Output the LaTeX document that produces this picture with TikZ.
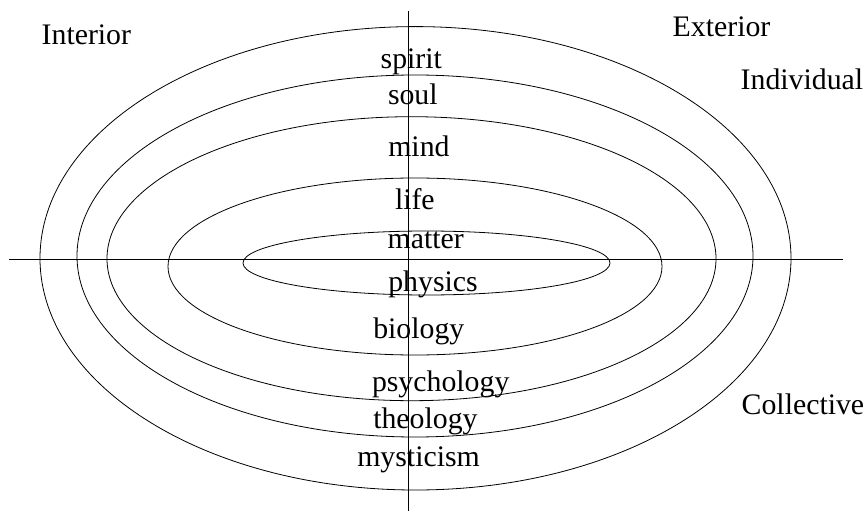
\documentclass[tikz,border=0pt]{standalone}
\usepackage{fontspec}
\setmainfont{Liberation Serif}
\begin{document}
\begin{tikzpicture}[x=1pt,y=-1pt,
  lbl/.style={anchor=base west,inner sep=0pt,outer sep=0pt,font=\fontsize{29.8}{32}\selectfont},
  ring/.style={draw=black,line width=0.8pt},
  axis/.style={draw=black,line width=0.8pt}]
\useasboundingbox (0,0) rectangle (865,513);
% axes
\coordinate (hl) at (9,259);
\coordinate (hr) at (843,259);
\coordinate (vt) at (408,11);
\coordinate (vb) at (408,511);
\draw[axis] (hl) -- (hr);
\draw[axis] (vt) -- (vb);
% rings
\draw[ring] (415.5,258.3) ellipse [x radius=375.5pt, y radius=231.7pt];
\draw[ring] (415,256) ellipse [x radius=338pt, y radius=181pt];
\draw[ring] (411.5,258.7) ellipse [x radius=304.5pt, y radius=142pt];
\draw[ring] (415,266.5) ellipse [x radius=247pt, y radius=88.5pt];
\draw[ring] (426.5,263) ellipse [x radius=183.5pt, y radius=32pt];
% corner labels
\node[lbl] (interior) at (41.7,45) {Interior};
\node[lbl] (exterior) at (672.7,36.7) {Exterior};
\node[lbl] (individual) at (740.7,90) {Individual};
\node[lbl] (collective) at (741.7,414) {Collective};
% level labels
\node[lbl] (spirit) at (380.7,68.3) {spirit};
\node[lbl] (soul) at (388,105) {soul};
\node[lbl] (mind) at (388.3,156.7) {mind};
\node[lbl] (life) at (395,210) {life};
\node[lbl] (matter) at (387.7,248.3) {matter};
\node[lbl] (physics) at (388.3,291.7) {physics};
\node[lbl] (biology) at (373.3,338.3) {biology};
\node[lbl] (psychology) at (372,391) {psychology};
\node[lbl] (theology) at (373.3,428.3) {theology};
\node[lbl] (mysticism) at (357.3,466) {mysticism};
\end{tikzpicture}
\end{document}
